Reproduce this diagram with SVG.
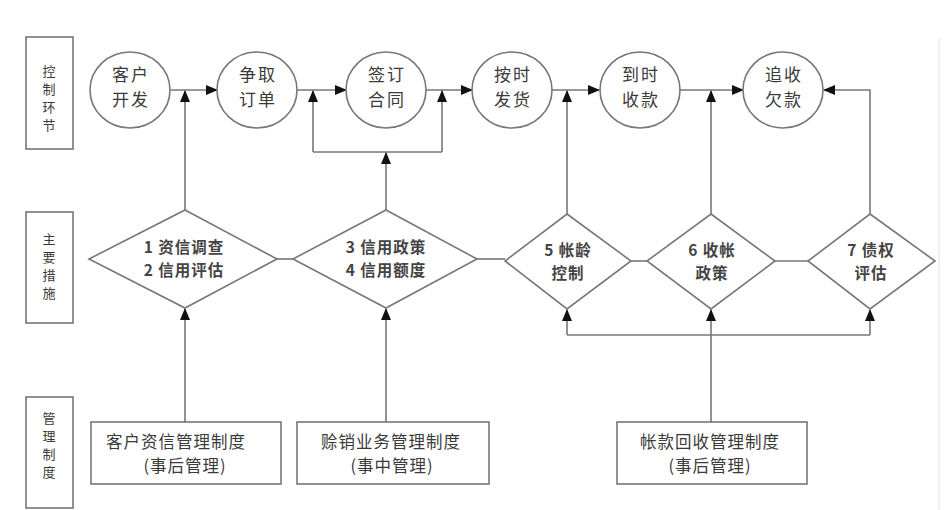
<svg xmlns="http://www.w3.org/2000/svg" width="945" height="510" viewBox="0 0 945 510">
<style>
.shape{fill:#fff;stroke:#777;stroke-width:1.6}
.ln{fill:none;stroke:#777;stroke-width:1.6}
.t{font-family:"Noto Sans CJK SC","Liberation Sans",sans-serif;fill:#3a3a3a;text-anchor:middle}
.c{font-size:17px;letter-spacing:2px}
.d{font-size:15.5px;font-weight:bold;letter-spacing:1px;fill:#444}
.b{font-size:16.5px;letter-spacing:1px}
.l{font-size:13px}
</style>
<defs>
<marker id="ah" markerUnits="userSpaceOnUse" markerWidth="12" markerHeight="10" refX="11" refY="5" orient="auto">
<path d="M0,0 L12,5 L0,10 Z" fill="#111"/>
</marker>
</defs>
<rect x="0" y="0" width="945" height="510" fill="#fff"/>
<line x1="939" y1="38" x2="939" y2="510" stroke="#eee" stroke-width="1.5"/>

<g id="label-control">
<rect class="shape" x="26" y="37" width="47" height="112"/>
<text class="t l" x="49" y="76">控</text><text class="t l" x="49" y="94">制</text><text class="t l" x="49" y="112">环</text><text class="t l" x="49" y="130">节</text>
</g>
<g id="label-measures">
<rect class="shape" x="26" y="212" width="47" height="111"/>
<text class="t l" x="49" y="244">主</text><text class="t l" x="49" y="262">要</text><text class="t l" x="49" y="280">措</text><text class="t l" x="49" y="298">施</text>
</g>
<g id="label-system">
<rect class="shape" x="26" y="397" width="47" height="111"/>
<text class="t l" x="49" y="423">管</text><text class="t l" x="49" y="441">理</text><text class="t l" x="49" y="459">制</text><text class="t l" x="49" y="477">度</text>
</g>

<g id="connectors">
<path class="ln" d="M171,90 H217" marker-end="url(#ah)"/>
<path class="ln" d="M297,90 H346" marker-end="url(#ah)"/>
<path class="ln" d="M426,90 H472" marker-end="url(#ah)"/>
<path class="ln" d="M552,90 H599" marker-end="url(#ah)"/>
<path class="ln" d="M680,90 H743" marker-end="url(#ah)"/>
<path class="ln" d="M870,214 V90 H824" marker-end="url(#ah)"/>
<path class="ln" d="M185,210 V91" marker-end="url(#ah)"/>
<path class="ln" d="M313,152 V91" marker-end="url(#ah)"/>
<path class="ln" d="M442,152 V91" marker-end="url(#ah)"/>
<path class="ln" d="M313,152 H442"/>
<path class="ln" d="M386,210 V153" marker-end="url(#ah)"/>
<path class="ln" d="M567,214 V91" marker-end="url(#ah)"/>
<path class="ln" d="M711,214 V91" marker-end="url(#ah)"/>
<path class="ln" d="M277,259 H293"/>
<path class="ln" d="M477,259 H505"/>
<path class="ln" d="M631,261 H647"/>
<path class="ln" d="M775,261 H808"/>
<path class="ln" d="M185,422 V309" marker-end="url(#ah)"/>
<path class="ln" d="M386,422 V309" marker-end="url(#ah)"/>
<path class="ln" d="M711,422 V310" marker-end="url(#ah)"/>
<path class="ln" d="M567,335 H870"/>
<path class="ln" d="M567,335 V310" marker-end="url(#ah)"/>
<path class="ln" d="M870,335 V310" marker-end="url(#ah)"/>
</g>

<g id="n-khkf"><ellipse class="shape" cx="130" cy="90" rx="40" ry="38"/><text class="t c"><tspan x="131" y="81">客户</tspan><tspan x="131" y="106">开发</tspan></text></g>
<g id="n-zqdd"><ellipse class="shape" cx="257" cy="90" rx="40" ry="38"/><text class="t c"><tspan x="258" y="81">争取</tspan><tspan x="258" y="106">订单</tspan></text></g>
<g id="n-qdht"><ellipse class="shape" cx="386" cy="90" rx="40" ry="38"/><text class="t c"><tspan x="387" y="81">签订</tspan><tspan x="387" y="106">合同</tspan></text></g>
<g id="n-asfh"><ellipse class="shape" cx="512" cy="90" rx="40" ry="38"/><text class="t c"><tspan x="513" y="81">按时</tspan><tspan x="513" y="106">发货</tspan></text></g>
<g id="n-dssk"><ellipse class="shape" cx="640" cy="90" rx="40" ry="38"/><text class="t c"><tspan x="641" y="81">到时</tspan><tspan x="641" y="106">收款</tspan></text></g>
<g id="n-zsqk"><ellipse class="shape" cx="783" cy="90" rx="40" ry="38"/><text class="t c"><tspan x="784" y="81">追收</tspan><tspan x="784" y="106">欠款</tspan></text></g>

<g id="d-1"><polygon class="shape" points="185,210 277,259 185,308 89,259"/><text class="t d"><tspan x="184" y="253">1 资信调查</tspan><tspan x="184" y="276">2 信用评估</tspan></text></g>
<g id="d-2"><polygon class="shape" points="386,210 477,259 386,308 293,259"/><text class="t d"><tspan x="386" y="253">3 信用政策</tspan><tspan x="386" y="276">4 信用额度</tspan></text></g>
<g id="d-3"><polygon class="shape" points="567,214 631,261 567,309 505,261"/><text class="t d"><tspan x="568" y="256">5 帐龄</tspan><tspan x="568" y="279">控制</tspan></text></g>
<g id="d-4"><polygon class="shape" points="711,214 775,261 711,309 647,261"/><text class="t d"><tspan x="712" y="256">6 收帐</tspan><tspan x="712" y="279">政策</tspan></text></g>
<g id="d-5"><polygon class="shape" points="870,214 935,261 870,309 808,261"/><text class="t d"><tspan x="871" y="256">7 债权</tspan><tspan x="871" y="279">评估</tspan></text></g>

<g id="b-1"><rect class="shape" x="91" y="422" width="190" height="62"/><text class="t b"><tspan x="176" y="448">客户资信管理制度</tspan><tspan x="185" y="472">(事后管理)</tspan></text></g>
<g id="b-2"><rect class="shape" x="297" y="422" width="192" height="62"/><text class="t b"><tspan x="391" y="448">赊销业务管理制度</tspan><tspan x="392" y="472">(事中管理)</tspan></text></g>
<g id="b-3"><rect class="shape" x="617" y="422" width="190" height="62"/><text class="t b"><tspan x="710" y="448">帐款回收管理制度</tspan><tspan x="710" y="472">(事后管理)</tspan></text></g>
</svg>
